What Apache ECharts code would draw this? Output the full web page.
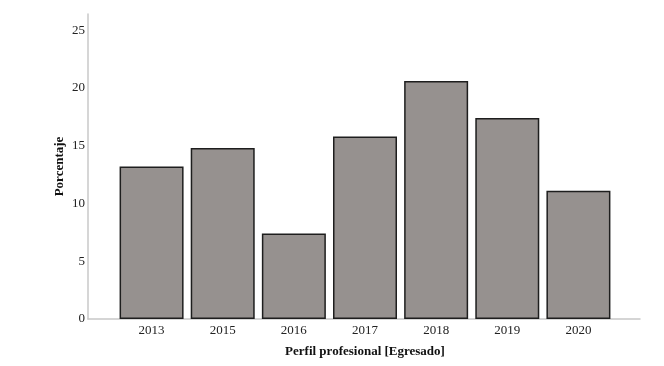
<!DOCTYPE html>
<html><head><meta charset="utf-8">
<script src="https://cdn.jsdelivr.net/npm/echarts@6/dist/echarts.min.js"></script>
<style>html,body{margin:0;padding:0;background:#fff}#c{width:664px;height:366px}</style>
</head><body><div id="c"></div>
<script>
var categories = ['2013','2015','2016','2017','2018','2019','2020'];
var values = [13.2, 14.8, 7.4, 15.8, 20.6, 17.4, 11.1];
var yTicks = [0, 5, 10, 15, 20, 25];
var xTitle = 'Perfil profesional [Egresado]';
var yTitle = 'Porcentaje';

var font = 'Liberation Serif';
var chart = echarts.init(document.getElementById('c'));
var yMax = 26.4;
chart.setOption({
  animation: false,
  grid: [
    {left: 88, right: 24, top: 14, bottom: 47},
    {left: 116, right: 50, top: 14, bottom: 47}
  ],
  xAxis: [
    {gridIndex: 0, type: 'value', min: 0, max: 1, show: true,
     axisLine: {show: true, lineStyle: {color: '#c8c8c8', width: 1.5}},
     axisTick: {show: false}, axisLabel: {show: false}, splitLine: {show: false}},
    {gridIndex: 1, type: 'category', data: categories,
     axisLine: {show: false}, axisTick: {show: false},
     axisLabel: {fontFamily: font, fontSize: 13, color: '#222', margin: 5},
     name: xTitle, nameLocation: 'middle', nameGap: 26,
     nameTextStyle: {fontFamily: font, fontSize: 13, fontWeight: 'bold', color: '#111'}}
  ],
  yAxis: [
    {gridIndex: 0, type: 'value', min: 0, max: yMax, interval: 5,
     axisLine: {show: true, lineStyle: {color: '#c8c8c8', width: 1.5}},
     axisTick: {show: false}, splitLine: {show: false},
     axisLabel: {fontFamily: font, fontSize: 13, color: '#222', margin: 3, showMaxLabel: false,
       formatter: function(v){ return yTicks.indexOf(v) >= 0 ? String(v) : ''; }},
     name: yTitle, nameLocation: 'middle', nameGap: 22, nameMoveOverlap: false,
     nameTextStyle: {fontFamily: font, fontSize: 13, fontWeight: 'bold', color: '#111'}},
    {gridIndex: 1, type: 'value', min: 0, max: yMax, show: false}
  ],
  series: [{
    type: 'bar', xAxisIndex: 1, yAxisIndex: 1, data: values, barWidth: 64,
    itemStyle: {color: '#96918f', borderColor: '#1e1e1e', borderWidth: 1.5}
  }]
});
</script></body></html>
